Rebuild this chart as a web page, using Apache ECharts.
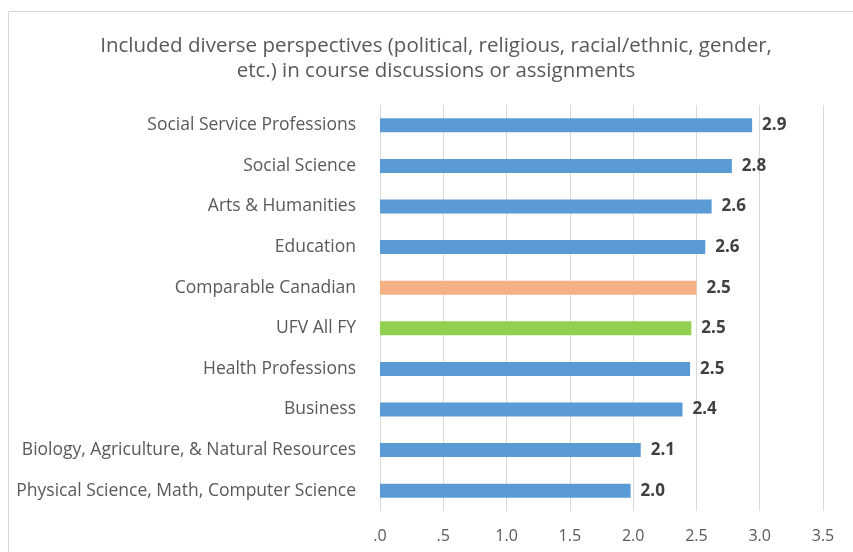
<!DOCTYPE html>
<html lang="en">
<head>
    <meta charset="UTF-8">
    <title>Diverse perspectives</title>
    <script src="https://cdn.jsdelivr.net/npm/echarts@6/dist/echarts.min.js"></script>
    <style>
        html, body {margin: 0; padding: 0; background: #fff;}
        #main {width: 853px; height: 552px;}
    </style>
</head>
<body>
    <div id="main"></div>
    <script>
    // categories listed bottom to top (category axis starts at the bottom)
    var categories = [
        'Physical Science, Math, Computer Science',
        'Biology, Agriculture, & Natural Resources',
        'Business',
        'Health Professions',
        'UFV All FY',
        'Comparable Canadian',
        'Education',
        'Arts & Humanities',
        'Social Science',
        'Social Service Professions'
    ];
    var values = [1.98, 2.06, 2.39, 2.45, 2.46, 2.50, 2.57, 2.62, 2.78, 2.94];
    var barColors = ['#5b9bd5', '#5b9bd5', '#5b9bd5', '#5b9bd5', '#92d050',
                     '#f4b183', '#5b9bd5', '#5b9bd5', '#5b9bd5', '#5b9bd5'];
    var xTicks = [0, 0.5, 1, 1.5, 2, 2.5, 3, 3.5];

    var myChart = echarts.init(document.getElementById('main'));

    var font = '"Open Sans", sans-serif';

    var option = {
        animation: false,
        textStyle: {fontFamily: font},
        graphic: [
            {
                // chart frame
                type: 'rect',
                shape: {x: 8.5, y: 11.5, width: 860, height: 560},
                style: {fill: 'none', stroke: '#d9d9d9', lineWidth: 1},
                silent: true
            }
        ],
        title: {
            text: 'Included diverse perspectives (political, religious, racial/ethnic, gender,\netc.) in course discussions or assignments',
            left: 431,
            top: 29,
            textAlign: 'center',
            textStyle: {
                fontFamily: font,
                fontSize: 20.5,
                fontWeight: 'normal',
                color: '#595959',
                lineHeight: 25
            }
        },
        grid: {
            left: 380,
            right: 30,
            top: 105,
            bottom: 41,
            containLabel: false
        },
        xAxis: {
            type: 'value',
            min: xTicks[0],
            max: xTicks[xTicks.length - 1],
            interval: 0.5,
            axisLine: {show: false},
            axisTick: {show: false},
            axisLabel: {
                margin: 17,
                fontFamily: font,
                fontSize: 16,
                color: '#595959',
                formatter: function (v) {
                    var s = v.toFixed(1);
                    return s.charAt(0) === '0' ? s.slice(1) : s;
                }
            },
            splitLine: {lineStyle: {color: '#d9d9d9', width: 1}}
        },
        yAxis: {
            type: 'category',
            data: categories,
            axisLine: {show: false},
            axisTick: {show: false},
            axisLabel: {
                margin: 24,
                fontFamily: font,
                fontSize: 17.5,
                color: '#595959'
            }
        },
        series: [
            {
                type: 'bar',
                barWidth: 14,
                data: values.map(function (v, i) {
                    return {value: v, itemStyle: {color: barColors[i]}};
                }),
                label: {
                    show: true,
                    position: 'right',
                    distance: 10,
                    fontFamily: font,
                    fontSize: 17,
                    fontWeight: 'bold',
                    color: '#404040',
                    formatter: function (p) { return p.value.toFixed(1); }
                }
            }
        ]
    };
    myChart.setOption(option);
    </script>
</body>
</html>
